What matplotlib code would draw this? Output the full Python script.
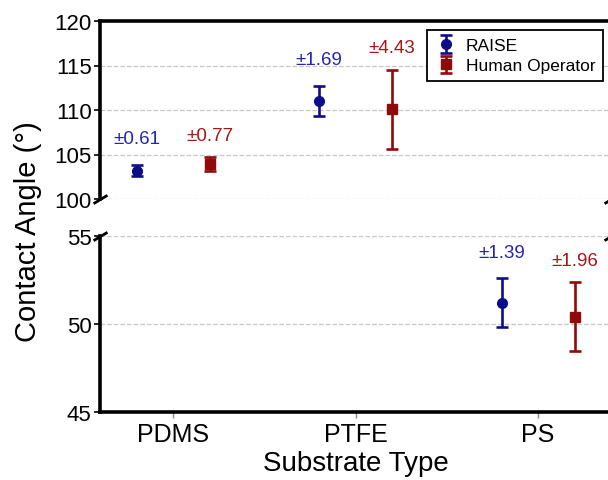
from matplotlib import pyplot as plt

plt.rcParams['font.family'] = ['Liberation Sans', 'DejaVu Sans']

# Data
substrates = ['PDMS', 'PTFE', 'PS']
raise_mean = [103.2, 111.0, 51.2]
raise_sd = [0.61, 1.69, 1.39]
human_mean = [103.9, 110.1, 50.4]
human_sd = [0.77, 4.43, 1.96]

blue = '#0d0d8a'
red = '#8f0a0a'
blue_txt = '#2424b4'
red_txt = '#a81616'

fig = plt.figure(figsize=(6.08, 4.81), dpi=100)
left, width = 100 / 608, 511 / 608
ax_top = fig.add_axes([left, 1 - 200 / 481, width, 178 / 481])
ax_bot = fig.add_axes([left, 1 - 413 / 481, width, 176 / 481])

xs = list(range(len(substrates)))
off = 0.2

for ax in (ax_top, ax_bot):
    h1 = ax.errorbar([x - off for x in xs], raise_mean, yerr=raise_sd, fmt='o',
                     color=blue, markersize=7, elinewidth=1.9, capsize=4.5,
                     capthick=1.9, label='RAISE', zorder=3)
    h2 = ax.errorbar([x + off for x in xs], human_mean, yerr=human_sd, fmt='s',
                     color=red, markersize=6.5, elinewidth=1.9, capsize=4.5,
                     capthick=1.9, label='Human Operator', zorder=3)
    ax.set_xlim(-0.4, 2.4)
    ax.grid(axis='y', linestyle='--', color='#c8c8c8', linewidth=0.9)
    ax.set_axisbelow(True)
    for s in ax.spines.values():
        s.set_linewidth(2.6)
    ax.tick_params(axis='y', labelsize=16, length=4, width=1.2, pad=2)
    ax.tick_params(axis='x', labelsize=18, length=4, width=1, color='#888888',
                   pad=3)

ax_top.set_ylim(100, 120)
ax_top.set_yticks([100, 105, 110, 115, 120])
ax_bot.set_ylim(45, 55)
ax_bot.set_yticks([45, 50, 55])

ax_top.spines['bottom'].set_visible(False)
ax_bot.spines['top'].set_visible(False)
ax_top.tick_params(axis='x', bottom=False, labelbottom=False)
ax_bot.set_xticks(xs)
ax_bot.set_xticklabels(substrates)
ax_bot.set_xlabel('Substrate Type', fontsize=20, labelpad=3)

# break marks
d = 0.6
kw = dict(marker=[(-1, -d), (1, d)], markersize=10, linestyle='none',
          color='k', mec='k', mew=2, clip_on=False)
ax_top.plot([0, 1], [0, 0], transform=ax_top.transAxes, **kw)
ax_bot.plot([0, 1], [1, 1], transform=ax_bot.transAxes, **kw)

# +/- labels
for i, x in enumerate(xs):
    ax = ax_top if raise_mean[i] > 80 else ax_bot
    ax.annotate('±%.2f' % raise_sd[i], (x - off, raise_mean[i] + raise_sd[i]),
                xytext=(0, 19), textcoords='offset points', ha='center',
                va='center', fontsize=13.5, color=blue_txt)
    ax.annotate('±%.2f' % human_sd[i], (x + off, human_mean[i] + human_sd[i]),
                xytext=(0, 16), textcoords='offset points', ha='center',
                va='center', fontsize=13.5, color=red_txt)

leg = ax_top.legend(handles=[h1, h2], loc='upper right',
                    bbox_to_anchor=(603 / 608, 1 - 31 / 481),
                    bbox_transform=fig.transFigure, borderaxespad=0,
                    fontsize=12.5, fancybox=False, framealpha=1,
                    edgecolor='black', borderpad=0.45, handletextpad=0.5,
                    labelspacing=0.3, handlelength=1.3)
leg.get_frame().set_linewidth(1.3)

fig.text(28 / 608, 1 - 232 / 481, 'Contact Angle (°)', rotation=90,
         ha='center', va='center', fontsize=21)

plt.savefig('out.png', dpi=100)
